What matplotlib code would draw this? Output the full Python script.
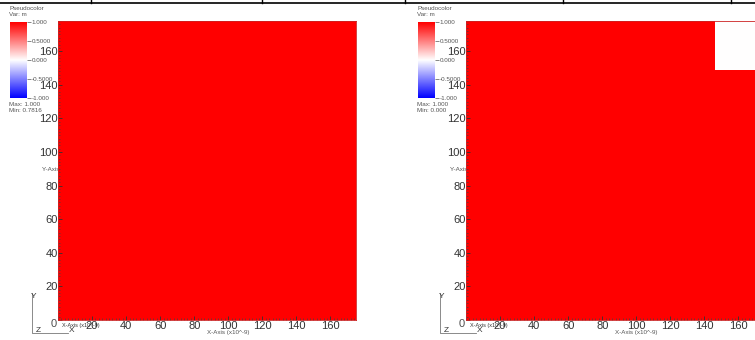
import matplotlib.pyplot as plt
import numpy as np
from matplotlib.lines import Line2D
from matplotlib.ticker import MultipleLocator

plt.rcParams['font.family'] = ['Liberation Sans', 'DejaVu Sans']

# dados (dominio em unidades x10^-9)
nx, ny = 175, 178
tick_vals = [0, 20, 40, 60, 80, 100, 120, 140, 160]
tick_labels = ["", "20", "40", "60", "80", "100", "120", "140", "160"]
cbar_vals = [1.0, 0.5, 0.0, -0.5, -1.0]
cbar_labels = ["1.000", "0.5000", "0.000", "-0.5000", "-1.000"]

# campo m: esquerda quase todo 1, direita com canto vazio (0)
left_val = 1.0
left_min, left_max = 0.7816, 1.000
right_val = 1.0
right_min, right_max = 0.000, 1.000
void_x0, void_y0 = 146, 149

left_field = np.full((ny, nx), left_val)
right_field = np.full((ny, nx), right_val)
right_field[void_y0:, void_x0:] = 0.0

W, H = 755, 340
fig = plt.figure(figsize=(W / 100, H / 100), dpi=100)


def px_axes(x0, y0, x1, y1, **kw):
    return fig.add_axes([x0 / W, 1 - y1 / H, (x1 - x0) / W, (y1 - y0) / H], **kw)


def ftext(x, y, s, **kw):
    fig.text(x / W, 1 - y / H, s, **kw)


def fline(xs, ys, **kw):
    fig.add_artist(Line2D([x / W for x in xs], [1 - y / H for y in ys],
                          transform=fig.transFigure, **kw))


def painel(ox, field, vmin, vmax):
    ax = px_axes(ox + 58, 21, ox + 356, 320)
    ax.imshow(field, cmap="bwr", vmin=-1, vmax=1, origin="lower",
              extent=(0, nx, 0, ny), interpolation="nearest", aspect="auto")
    ax.set_xlim(0, nx)
    ax.set_ylim(0, ny)
    ax.set_xticks(tick_vals)
    ax.set_xticklabels(tick_labels)
    ax.set_yticks(tick_vals)
    ax.set_yticklabels(tick_labels)
    ax.xaxis.set_minor_locator(MultipleLocator(2))
    ax.yaxis.set_minor_locator(MultipleLocator(2))
    ax.tick_params(which="major", direction="in", length=3, width=0.6,
                   color="#333333", labelsize=8, labelcolor="#333333", pad=0)
    ax.tick_params(axis="x", which="major", pad=1)
    ax.tick_params(which="minor", direction="in", length=1.5, width=0.5,
                   color="#444444")
    ax.tick_params(top=False, right=False)
    for s in ax.spines.values():
        s.set_color("#cc2222")
        s.set_linewidth(0.6)

    # titulos dos eixos (parcialmente escondidos, como no VisIt)
    ftext(ox + 42, 171, "Y-Axis (x10^-9)", fontsize=4.5, color="#555555", zorder=-1)
    ftext(ox + 228, 334, "X-Axis (x10^-9)", fontsize=4.5, color="#555555", ha="center")
    ftext(ox + 62, 326, "X-Axis (x10^-9)", fontsize=4, color="#333333", va="center")
    ftext(ox + 51, 324, "0", fontsize=8, color="#222222", va="center", alpha=0.8)

    # legenda de cores
    cax = px_axes(ox + 10, 22, ox + 27, 98)
    grad = np.linspace(-1, 1, 256).reshape(-1, 1)
    cax.imshow(grad, cmap="bwr", vmin=-1, vmax=1, origin="lower",
               extent=(0, 1, -1, 1), aspect="auto")
    cax.set_xticks([])
    cax.yaxis.tick_right()
    cax.set_yticks(cbar_vals)
    cax.set_yticklabels(cbar_labels)
    cax.tick_params(axis="y", length=3, width=0.5, color="#555555",
                    labelsize=4.5, labelcolor="#555555", pad=0.5)
    for s in cax.spines.values():
        s.set_visible(False)
    ftext(ox + 9, 9, "Pseudocolor", fontsize=4.5, color="#555555", va="center")
    ftext(ox + 9, 15, "Var: m", fontsize=4.5, color="#555555", va="center")
    ftext(ox + 9, 104, f"Max: {vmax:.3f}", fontsize=4.5, color="#555555", va="center")
    ftext(ox + 9, 110, f"Min: {vmin:.4g}" if vmin else f"Min: {vmin:.3f}",
          fontsize=4.5, color="#555555", va="center")

    # triedro
    fline([ox + 32, ox + 32, ox + 68], [293, 333, 333], color="#777777", lw=0.6)
    ftext(ox + 34, 296, "Y", fontsize=6, color="#333333", ha="center", va="center")
    ftext(ox + 38, 330, "Z", fontsize=6, color="#333333", ha="center", va="center")
    ftext(ox + 72, 330, "X", fontsize=6, color="#333333", ha="center", va="center")
    return ax


painel(0, left_field, left_min, left_max)
painel(408, right_field, right_min, right_max)

# bordas da tabela
fline([0, W], [3, 3], color="black", lw=1.2)
for x in [91, 262, 405, 563, 731]:
    fline([x, x], [0, 3], color="black", lw=1.0)

fig.savefig("out.png", dpi=100)
